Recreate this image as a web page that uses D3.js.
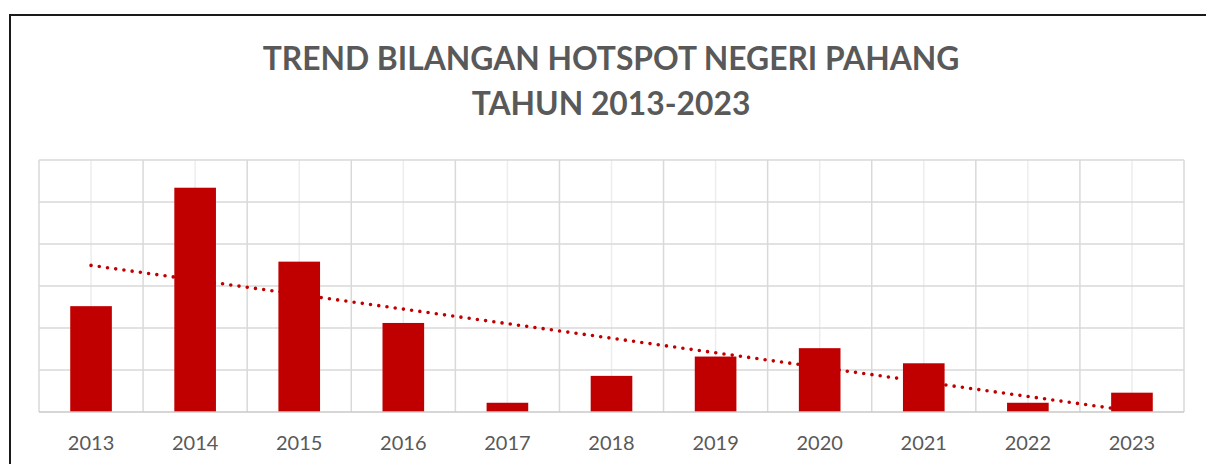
<!DOCTYPE html>
<html>
<head>
<meta charset="utf-8">
<script src="https://cdn.jsdelivr.net/npm/d3@7/dist/d3.min.js"></script>
<style>
  html, body { margin: 0; padding: 0; background: #fff; }
  svg { display: block; }
</style>
</head>
<body>
<svg id="chart" width="1206" height="464"></svg>
<script>
const years = ["2013","2014","2015","2016","2017","2018","2019","2020","2021","2022","2023"];
const hotspots = [126, 267, 179, 106, 11, 43, 66, 76, 58, 11, 23];
const yTicks = [0, 50, 100, 150, 200, 250, 300];
const titleLines = ["TREND BILANGAN HOTSPOT NEGERI PAHANG", "TAHUN 2013-2023"];

const svg = d3.select("#chart");
const plot = { left: 39, right: 1184, top: 160, bottom: 412 };

// outer chart border
svg.append("rect")
  .attr("x", 10).attr("y", 15)
  .attr("width", 1300).attr("height", 600)
  .attr("fill", "none").attr("stroke", "#1a1a1a").attr("stroke-width", 2);

// title
svg.append("g").selectAll("text").data(titleLines).join("text")
  .attr("x", 611)
  .attr("y", (d, i) => i === 0 ? 70 : 115)
  .attr("text-anchor", "middle")
  .attr("font-family", "Lato, 'Open Sans', sans-serif")
  .attr("font-weight", "bold")
  .attr("font-size", 31.8)
  .attr("fill", "#595959")
  .text(d => d);

const x = d3.scaleBand().domain(years)
  .range([plot.left, plot.right])
  .paddingInner(0.6).paddingOuter(0.3);
const step = x.step();
const y = d3.scaleLinear().domain([0, 300]).range([plot.bottom, plot.top]);

const grid = svg.append("g");
// center vertical lines (lighter)
grid.selectAll("line.vc").data(years).join("line")
  .attr("class", "vc")
  .attr("x1", d => x(d) + x.bandwidth() / 2).attr("x2", d => x(d) + x.bandwidth() / 2)
  .attr("y1", plot.top).attr("y2", plot.bottom)
  .attr("stroke", "#ededed").attr("stroke-width", 1.5);
// boundary vertical lines
const bounds = d3.range(years.length + 1).map(i => plot.left + i * step);
grid.selectAll("line.vb").data(bounds).join("line")
  .attr("class", "vb")
  .attr("x1", d => d).attr("x2", d => d)
  .attr("y1", plot.top).attr("y2", plot.bottom)
  .attr("stroke", "#d9d9d9").attr("stroke-width", 1.5);
// horizontal gridlines
grid.selectAll("line.h").data(yTicks.filter(t => t > 0)).join("line")
  .attr("class", "h")
  .attr("x1", plot.left).attr("x2", plot.right)
  .attr("y1", d => y(d)).attr("y2", d => y(d))
  .attr("stroke", "#d9d9d9").attr("stroke-width", 1.5);

// linear trendline (least squares)
const n = hotspots.length;
const xs = d3.range(n);
const mx = d3.mean(xs), my = d3.mean(hotspots);
const slope = d3.sum(xs, i => (i - mx) * (hotspots[i] - my)) / d3.sum(xs, i => (i - mx) ** 2);
const intercept = my - slope * mx;
const trend = [0, n - 1].map(i => [x(years[i]) + x.bandwidth() / 2, y(intercept + slope * i)]);
svg.append("path")
  .attr("d", d3.line()(trend))
  .attr("fill", "none")
  .attr("stroke", "#c00000")
  .attr("stroke-width", 3.6)
  .attr("stroke-linecap", "round")
  .attr("stroke-dasharray", "0,8.3");

// bars
svg.append("g").selectAll("rect").data(years).join("rect")
  .attr("x", d => x(d))
  .attr("width", x.bandwidth())
  .attr("y", (d, i) => y(hotspots[i]))
  .attr("height", (d, i) => y(0) - y(hotspots[i]))
  .attr("fill", "#c00000");

// x axis baseline
svg.append("line")
  .attr("x1", plot.left).attr("x2", plot.right)
  .attr("y1", y(0)).attr("y2", y(0))
  .attr("stroke", "#c8c8c8").attr("stroke-width", 1.5);

// x axis labels
const xAxis = d3.axisBottom(x).tickSize(0).tickPadding(0);
const ax = svg.append("g").attr("transform", `translate(0, 450)`).call(xAxis);
ax.select(".domain").remove();
ax.selectAll("text")
  .attr("dy", 0).attr("y", 0)
  .attr("font-family", "Lato, 'Open Sans', sans-serif")
  .attr("font-size", 20)
  .attr("fill", "#595959");
</script>
</body>
</html>
